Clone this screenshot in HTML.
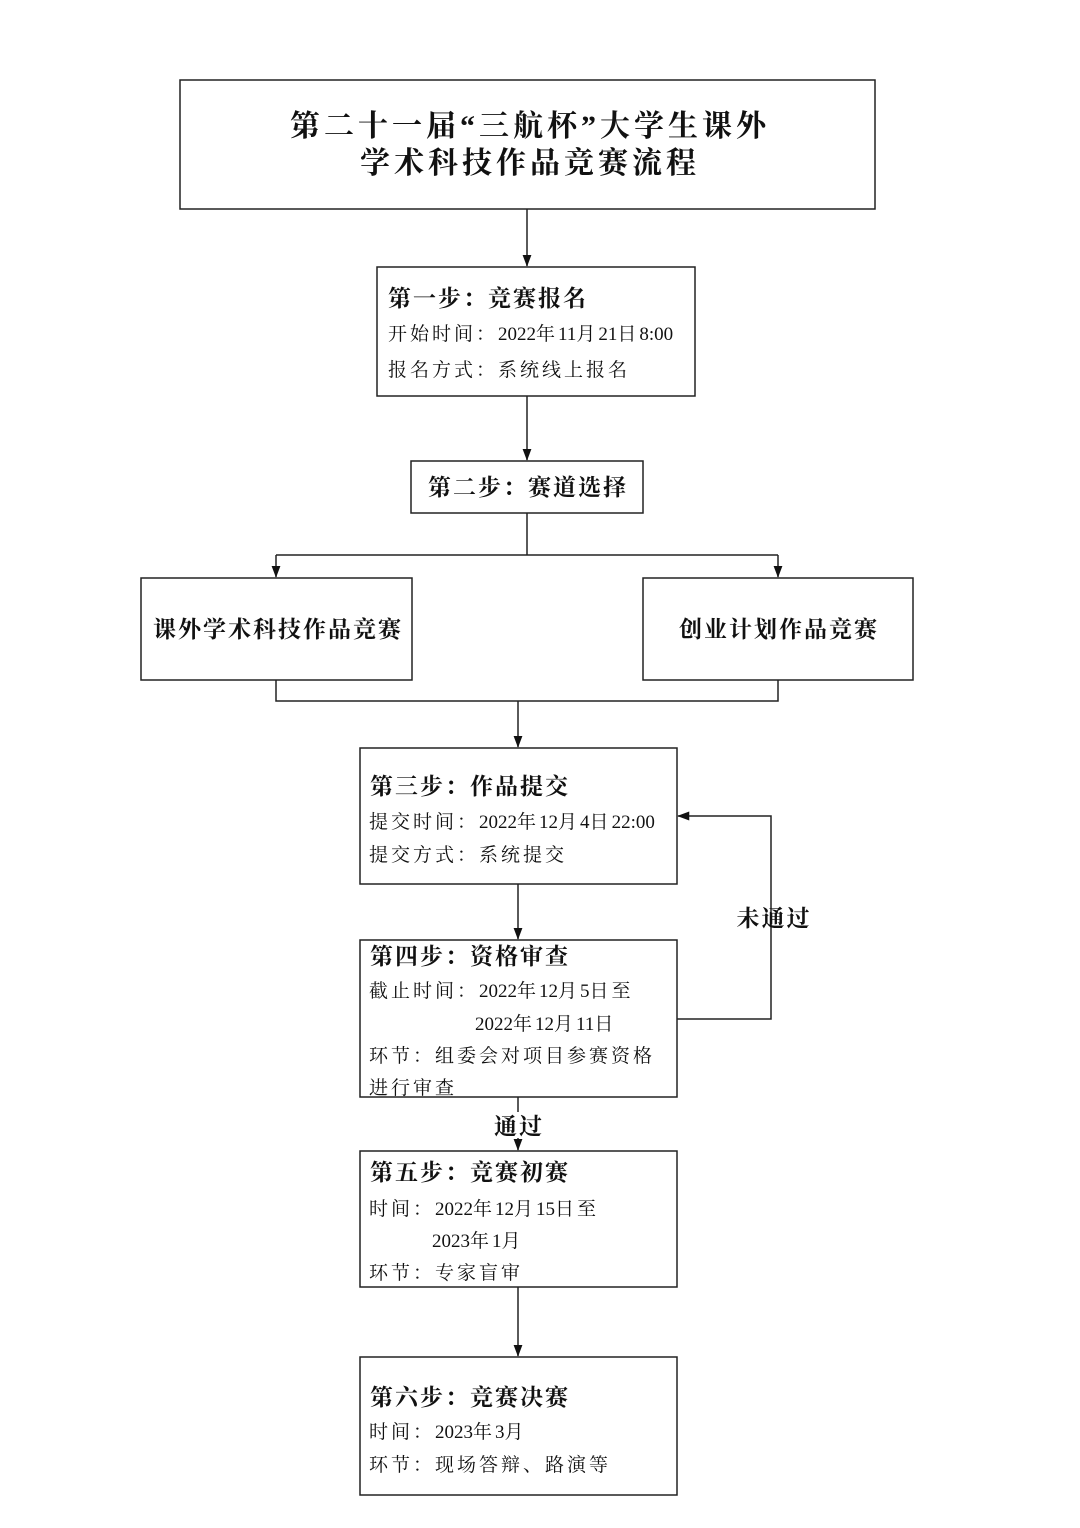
<!DOCTYPE html>
<html><head><meta charset="utf-8">
<style>
html,body{margin:0;padding:0;background:#fff;}
svg{display:block;}
text{font-family:"Liberation Serif","Noto Serif CJK SC",serif;fill:#111;}
.h{font-weight:bold;font-size:23px;letter-spacing:2px;}
.t{font-size:19px;letter-spacing:3px;}
.n{letter-spacing:0px;}
.title{font-weight:bold;font-size:30px;letter-spacing:4px;}
</style></head><body>
<svg width="1080" height="1528" viewBox="0 0 1080 1528" xmlns="http://www.w3.org/2000/svg">
<defs>
<marker id="a" markerWidth="12" markerHeight="16" refX="15" refY="6" orient="auto" markerUnits="userSpaceOnUse" viewBox="0 0 16 12">
<path d="M0,0 L16,6 L0,12 z" fill="#111"/>
</marker>
</defs>
<g fill="none" stroke="#222" stroke-width="1.5">
<rect x="180" y="80" width="695" height="129"/>
<rect x="377" y="267" width="318" height="129"/>
<rect x="411" y="461" width="232" height="52"/>
<rect x="141" y="578" width="271" height="102"/>
<rect x="643" y="578" width="270" height="102"/>
<rect x="360" y="748" width="317" height="136"/>
<rect x="360" y="940" width="317" height="157"/>
<rect x="360" y="1151" width="317" height="136"/>
<rect x="360" y="1357" width="317" height="138"/>
<line x1="527" y1="209" x2="527" y2="266" marker-end="url(#a)"/>
<line x1="527" y1="396" x2="527" y2="460" marker-end="url(#a)"/>
<line x1="527" y1="513" x2="527" y2="555"/>
<line x1="276" y1="555" x2="778" y2="555"/>
<line x1="276" y1="555" x2="276" y2="577" marker-end="url(#a)"/>
<line x1="778" y1="555" x2="778" y2="577" marker-end="url(#a)"/>
<polyline points="276,680 276,701 778,701 778,680"/>
<line x1="518" y1="701" x2="518" y2="747" marker-end="url(#a)"/>
<line x1="518" y1="884" x2="518" y2="939" marker-end="url(#a)"/>
<polyline points="677,1019 771,1019 771,816 678,816" marker-end="url(#a)"/>
<line x1="518" y1="1097" x2="518" y2="1150" marker-end="url(#a)"/>
<line x1="518" y1="1287" x2="518" y2="1356" marker-end="url(#a)"/>
</g>
<rect x="490" y="1112" width="56" height="26" fill="#fff"/>
<text class="title" x="530" y="136" text-anchor="middle">第二十一届“三航杯”大学生课外</text>
<text class="title" x="530" y="173" text-anchor="middle">学术科技作品竞赛流程</text>
<text class="h" x="388" y="306">第一步：竞赛报名</text>
<text class="t" x="388" y="340">开始时间：<tspan class="n">2022</tspan>年<tspan class="n">11</tspan>月<tspan class="n">21</tspan>日<tspan class="n">8:00</tspan></text>
<text class="t" x="388" y="376">报名方式：系统线上报名</text>
<text class="h" x="528" y="495" text-anchor="middle">第二步：赛道选择</text>
<text class="h" x="278" y="637" text-anchor="middle">课外学术科技作品竞赛</text>
<text class="h" x="779" y="637" text-anchor="middle">创业计划作品竞赛</text>
<text class="h" x="370" y="794">第三步：作品提交</text>
<text class="t" x="369" y="828">提交时间：<tspan class="n">2022</tspan>年<tspan class="n">12</tspan>月<tspan class="n">4</tspan>日<tspan class="n">22:00</tspan></text>
<text class="t" x="369" y="861">提交方式：系统提交</text>
<text class="h" x="774" y="926" text-anchor="middle">未通过</text>
<text class="h" x="370" y="964">第四步：资格审查</text>
<text class="t" x="369" y="997">截止时间：<tspan class="n">2022</tspan>年<tspan class="n">12</tspan>月<tspan class="n">5</tspan>日至</text>
<text class="t" x="475" y="1030"><tspan class="n">2022</tspan>年<tspan class="n">12</tspan>月<tspan class="n">11</tspan>日</text>
<text class="t" x="369" y="1062">环节：组委会对项目参赛资格</text>
<text class="t" x="369" y="1094">进行审查</text>
<text class="h" x="519" y="1134" text-anchor="middle">通过</text>
<text class="h" x="370" y="1180">第五步：竞赛初赛</text>
<text class="t" x="369" y="1215">时间：<tspan class="n">2022</tspan>年<tspan class="n">12</tspan>月<tspan class="n">15</tspan>日至</text>
<text class="t" x="432" y="1247"><tspan class="n">2023</tspan>年<tspan class="n">1</tspan>月</text>
<text class="t" x="369" y="1279">环节：专家盲审</text>
<text class="h" x="370" y="1405">第六步：竞赛决赛</text>
<text class="t" x="369" y="1438">时间：<tspan class="n">2023</tspan>年<tspan class="n">3</tspan>月</text>
<text class="t" x="369" y="1471">环节：现场答辩、路演等</text>
</svg>
</body></html>
